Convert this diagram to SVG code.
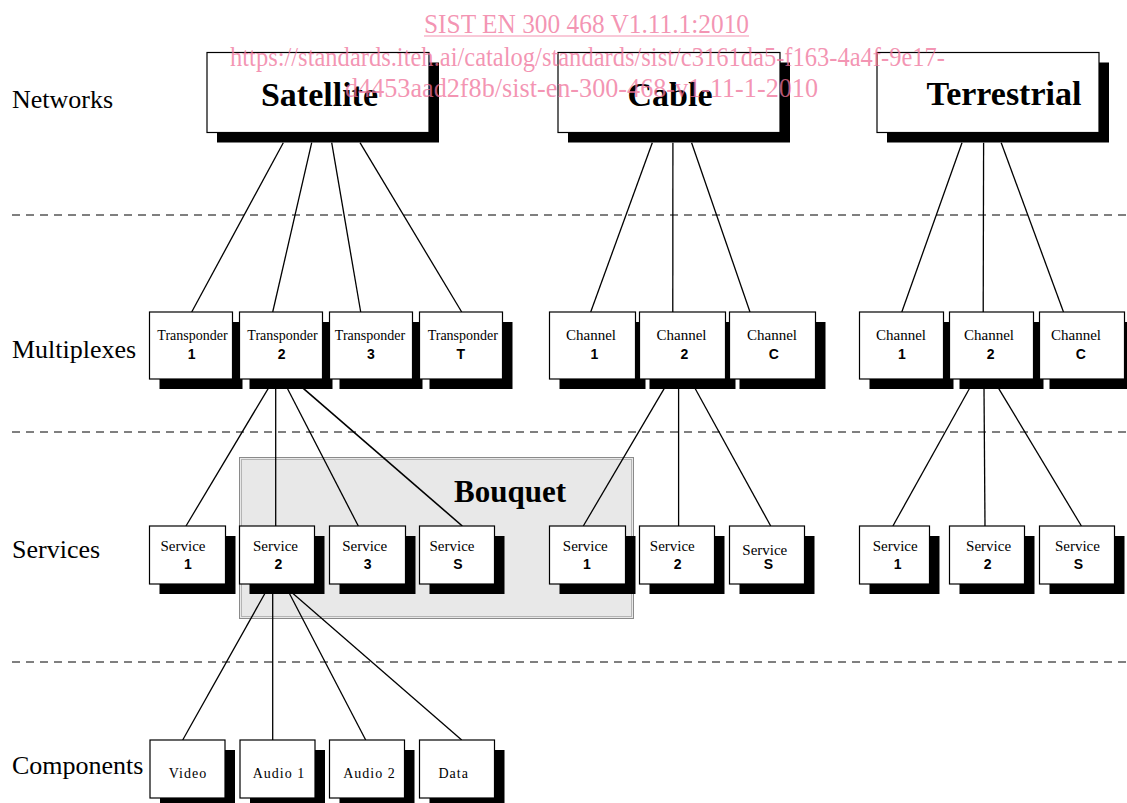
<svg xmlns="http://www.w3.org/2000/svg" width="1127" height="803" viewBox="0 0 1127 803">
<style>
.bg{fill:#fff}
.box{fill:#fff;stroke:#000;stroke-width:1.2}
.sh{fill:#000}
.net{font-family:"Liberation Serif","Times New Roman",serif;font-weight:bold;font-size:34px;fill:#000;text-anchor:middle}
.lvl{font-family:"Liberation Serif","Times New Roman",serif;font-size:26px;fill:#000}
.lbl{font-family:"Liberation Serif","Times New Roman",serif;font-size:15px;fill:#000;text-anchor:middle}
.tr{font-family:"Liberation Serif","Times New Roman",serif;font-size:14px;fill:#000;text-anchor:middle}
.num{font-family:"Liberation Sans",Arial,sans-serif;font-weight:bold;font-size:14px;fill:#000;text-anchor:middle}
.cmp{font-family:"Liberation Serif","Times New Roman",serif;font-size:14px;letter-spacing:1px;fill:#000;text-anchor:middle}
.dash{stroke:#000;stroke-width:1;stroke-dasharray:8 6;fill:none}
.ln{stroke:#000;stroke-width:1.3;fill:none}
.wm{font-family:"Liberation Serif","Times New Roman",serif;font-size:27px;fill:#f0729a;fill-opacity:0.75}
</style>
<rect class="bg" x="0" y="0" width="1127" height="803"/>

<g id="levels">
<text class="lvl" x="12" y="108">Networks</text>
<text class="lvl" x="12" y="358">Multiplexes</text>
<text class="lvl" x="12" y="558">Services</text>
<text class="lvl" x="12" y="774">Components</text>
<line class="dash" x1="12" y1="215" x2="1127" y2="215"/>
<line class="dash" x1="12" y1="432" x2="1127" y2="432"/>
<line class="dash" x1="12" y1="662" x2="1127" y2="662"/>
</g>

<g id="bouquet">
<rect x="239.5" y="457.5" width="394" height="161" fill="#e8e8e8" stroke="#8a8a8a" stroke-width="1"/>
<rect x="241.5" y="459.5" width="390" height="157" fill="none" stroke="#b4b4b4" stroke-width="1"/>
<text class="net" x="510" y="502" style="font-size:31px">Bouquet</text>
</g>

<g id="connectors">
<line class="ln" x1="283.3" y1="142.7" x2="191.7" y2="312"/>
<line class="ln" x1="311.7" y1="142.7" x2="272.7" y2="312"/>
<line class="ln" x1="331.7" y1="142.7" x2="360.7" y2="312"/>
<line class="ln" x1="360" y1="142.7" x2="461.7" y2="312"/>
<line class="ln" x1="652.3" y1="142.7" x2="590.7" y2="312"/>
<line class="ln" x1="672.9" y1="142.7" x2="672.8" y2="312"/>
<line class="ln" x1="691.6" y1="142.7" x2="750" y2="312"/>
<line class="ln" x1="962" y1="142.7" x2="901.8" y2="312"/>
<line class="ln" x1="983.6" y1="142.7" x2="983.2" y2="312"/>
<line class="ln" x1="1001.2" y1="142.7" x2="1063.5" y2="312"/>
<line class="ln" x1="268.3" y1="388.3" x2="186" y2="526"/>
<line class="ln" x1="275.7" y1="388.3" x2="275.7" y2="526"/>
<line class="ln" x1="287.3" y1="388.3" x2="358.3" y2="526"/>
<line class="ln" x1="303.3" y1="388.3" x2="462.3" y2="526" style="stroke-width:1.6"/>
<line class="ln" x1="664.3" y1="388.3" x2="583.3" y2="526"/>
<line class="ln" x1="678.6" y1="388.3" x2="678.6" y2="526"/>
<line class="ln" x1="695" y1="388.3" x2="770.7" y2="526"/>
<line class="ln" x1="969.6" y1="388.3" x2="892.9" y2="526"/>
<line class="ln" x1="984" y1="388.3" x2="985" y2="526"/>
<line class="ln" x1="998.6" y1="388.3" x2="1081.4" y2="526"/>
<line class="ln" x1="265" y1="593.3" x2="182.7" y2="740"/>
<line class="ln" x1="272.7" y1="593.3" x2="272.7" y2="740"/>
<line class="ln" x1="289.3" y1="593.3" x2="365.7" y2="740"/>
<line class="ln" x1="292.7" y1="593.3" x2="461.7" y2="740"/>
</g>

<g id="net-satellite"><rect class="sh" x="217" y="62.5" width="222" height="80"/><rect class="box" x="207" y="52.5" width="222" height="80"/><text class="net" x="319.5" y="106">Satellite</text></g>
<g id="net-cable"><rect class="sh" x="568" y="62.5" width="222" height="80"/><rect class="box" x="558" y="52.5" width="222" height="80"/><text class="net" x="670" y="106">Cable</text></g>
<g id="net-terrestrial"><rect class="sh" x="887" y="62.5" width="222" height="80"/><rect class="box" x="877" y="52.5" width="222" height="80"/><text class="net" x="1004" y="105">Terrestrial</text></g>

<g id="mux-t1"><rect class="sh" x="159.5" y="322" width="83" height="67"/><rect class="box" x="149.5" y="312" width="83" height="67"/><text class="tr" x="192.5" y="340">Transponder</text><text class="num" x="191.7" y="359">1</text></g>
<g id="mux-t2"><rect class="sh" x="249.5" y="322" width="83" height="67"/><rect class="box" x="239.5" y="312" width="83" height="67"/><text class="tr" x="282.5" y="340">Transponder</text><text class="num" x="281.7" y="359">2</text></g>
<g id="mux-t3"><rect class="sh" x="339.5" y="322" width="83" height="67"/><rect class="box" x="329.5" y="312" width="83" height="67"/><text class="tr" x="370" y="340">Transponder</text><text class="num" x="371" y="359">3</text></g>
<g id="mux-tt"><rect class="sh" x="429.5" y="322" width="83" height="67"/><rect class="box" x="419.5" y="312" width="83" height="67"/><text class="tr" x="462.8" y="340">Transponder</text><text class="num" x="460.7" y="359">T</text></g>

<g id="mux-c1"><rect class="sh" x="559.5" y="322" width="86" height="67"/><rect class="box" x="549.5" y="312" width="86" height="67"/><text class="lbl" x="591" y="340">Channel</text><text class="num" x="594.4" y="359">1</text></g>
<g id="mux-c2"><rect class="sh" x="649.5" y="322" width="86" height="67"/><rect class="box" x="639.5" y="312" width="86" height="67"/><text class="lbl" x="681.5" y="340">Channel</text><text class="num" x="684.3" y="359">2</text></g>
<g id="mux-cc"><rect class="sh" x="739.5" y="322" width="86" height="67"/><rect class="box" x="729.5" y="312" width="86" height="67"/><text class="lbl" x="772" y="340">Channel</text><text class="num" x="773.8" y="359">C</text></g>

<g id="mux-r1"><rect class="sh" x="869.5" y="322" width="84" height="67"/><rect class="box" x="859.5" y="312" width="84" height="67"/><text class="lbl" x="901" y="340">Channel</text><text class="num" x="901.8" y="359">1</text></g>
<g id="mux-r2"><rect class="sh" x="959.5" y="322" width="84" height="67"/><rect class="box" x="949.5" y="312" width="84" height="67"/><text class="lbl" x="989" y="340">Channel</text><text class="num" x="990.6" y="359">2</text></g>
<g id="mux-rc"><rect class="sh" x="1049.5" y="322" width="85" height="67"/><rect class="box" x="1039.5" y="312" width="85" height="67"/><text class="lbl" x="1076" y="340">Channel</text><text class="num" x="1080.9" y="359">C</text></g>

<g id="svc-s1"><rect class="sh" x="159.5" y="536" width="76" height="58"/><rect class="box" x="149.5" y="526" width="76" height="58"/><text class="lbl" x="183" y="551">Service</text><text class="num" x="188" y="569">1</text></g>
<g id="svc-s2"><rect class="sh" x="249.5" y="536" width="75" height="58"/><rect class="box" x="239.5" y="526" width="75" height="58"/><text class="lbl" x="275.5" y="551">Service</text><text class="num" x="278.3" y="569">2</text></g>
<g id="svc-s3"><rect class="sh" x="339.5" y="536" width="76" height="58"/><rect class="box" x="329.5" y="526" width="76" height="58"/><text class="lbl" x="364.7" y="551">Service</text><text class="num" x="367.7" y="569">3</text></g>
<g id="svc-ss"><rect class="sh" x="429.5" y="536" width="75" height="58"/><rect class="box" x="419.5" y="526" width="75" height="58"/><text class="lbl" x="452" y="551">Service</text><text class="num" x="458" y="569">S</text></g>

<g id="svc-c1"><rect class="sh" x="559.5" y="536" width="76" height="58"/><rect class="box" x="549.5" y="526" width="76" height="58"/><text class="lbl" x="585.3" y="551">Service</text><text class="num" x="587" y="569">1</text></g>
<g id="svc-c2"><rect class="sh" x="649.5" y="536" width="75" height="58"/><rect class="box" x="639.5" y="526" width="75" height="58"/><text class="lbl" x="672.3" y="551">Service</text><text class="num" x="677.6" y="569">2</text></g>
<g id="svc-cs"><rect class="sh" x="739.5" y="536" width="75" height="58"/><rect class="box" x="729.5" y="526" width="75" height="58"/><text class="lbl" x="764.8" y="554.5">Service</text><text class="num" x="768.3" y="569">S</text></g>

<g id="svc-r1"><rect class="sh" x="869.5" y="536" width="70" height="58"/><rect class="box" x="859.5" y="526" width="70" height="58"/><text class="lbl" x="895.2" y="551">Service</text><text class="num" x="897.7" y="569">1</text></g>
<g id="svc-r2"><rect class="sh" x="959.5" y="536" width="75" height="58"/><rect class="box" x="949.5" y="526" width="75" height="58"/><text class="lbl" x="988.6" y="551">Service</text><text class="num" x="987.6" y="569">2</text></g>
<g id="svc-rs"><rect class="sh" x="1049.5" y="536" width="75" height="58"/><rect class="box" x="1039.5" y="526" width="75" height="58"/><text class="lbl" x="1077.4" y="551">Service</text><text class="num" x="1078.3" y="569">S</text></g>

<g id="cmp-video"><rect class="sh" x="160" y="750" width="75" height="58"/><rect class="box" x="150" y="740" width="75" height="58"/><text class="cmp" x="188" y="778">Video</text></g>
<g id="cmp-audio1"><rect class="sh" x="250" y="750" width="75" height="58"/><rect class="box" x="240" y="740" width="75" height="58"/><text class="cmp" x="279" y="778">Audio 1</text></g>
<g id="cmp-audio2"><rect class="sh" x="339.5" y="750" width="75" height="58"/><rect class="box" x="329.5" y="740" width="75" height="58"/><text class="cmp" x="369.5" y="778">Audio 2</text></g>
<g id="cmp-data"><rect class="sh" x="429.5" y="750" width="75" height="58"/><rect class="box" x="419.5" y="740" width="75" height="58"/><text class="cmp" x="453.7" y="778">Data</text></g>

<g id="watermark">
<text class="wm" x="424" y="33" textLength="325" lengthAdjust="spacingAndGlyphs">SIST EN 300 468 V1.11.1:2010</text>
<line x1="424" y1="36" x2="749" y2="36" stroke="#f0729a" stroke-opacity="0.75" stroke-width="1.2"/>
<text class="wm" x="230" y="66" textLength="715" lengthAdjust="spacingAndGlyphs">https://standards.iteh.ai/catalog/standards/sist/c3161da5-f163-4a4f-9e17-</text>
<text class="wm" x="345" y="97" textLength="473" lengthAdjust="spacingAndGlyphs">d4453aad2f8b/sist-en-300-468-v1-11-1-2010</text>
</g>
</svg>
